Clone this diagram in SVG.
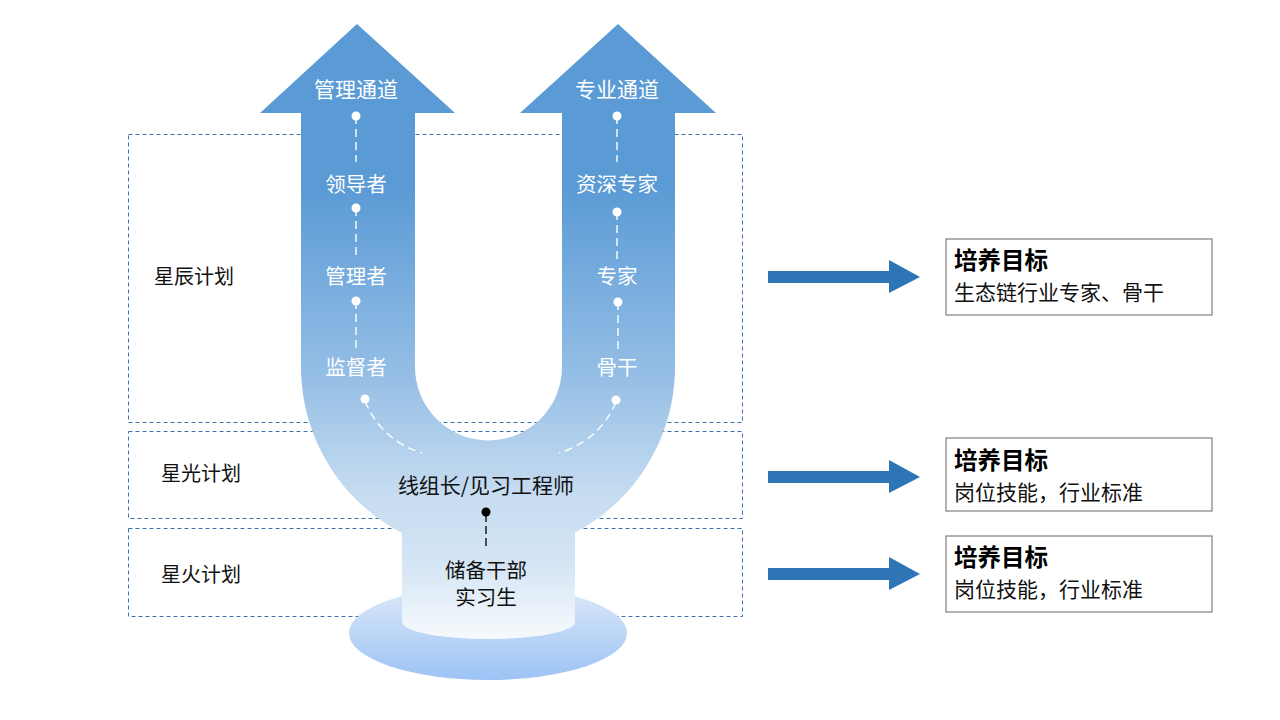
<svg xmlns="http://www.w3.org/2000/svg" width="1280" height="720" viewBox="0 0 1280 720">
<style>
.plan{fill:none;stroke:#3a73ad;stroke-width:1;stroke-dasharray:4 3}
.w{font-family:"Noto Sans CJK SC","Microsoft YaHei",sans-serif;font-size:20.5px;fill:#ffffff;text-anchor:middle;dominant-baseline:central}
.b{font-family:"Noto Sans CJK SC","Microsoft YaHei",sans-serif;font-size:21px;fill:#111111;text-anchor:middle;dominant-baseline:central}
.l{font-family:"Noto Sans CJK SC","Microsoft YaHei",sans-serif;font-size:20px;fill:#111111;dominant-baseline:central}
.t{font-family:"Noto Sans CJK SC","Microsoft YaHei",sans-serif;font-size:23.5px;font-weight:bold;fill:#000000;dominant-baseline:central}
.s{font-family:"Noto Sans CJK SC","Microsoft YaHei",sans-serif;font-size:21px;fill:#111111;dominant-baseline:central}
.box{fill:#ffffff;stroke:#7f7f7f;stroke-width:1.2}
.dot{fill:#ffffff}
.wd{fill:none;stroke:#ffffff;stroke-width:1.4;stroke-dasharray:8 5}
.bd{fill:none;stroke:#000000;stroke-width:1.3;stroke-dasharray:8 4}
.arr{fill:#2e75b6}
</style>
<defs>
<linearGradient id="ug" gradientUnits="userSpaceOnUse" x1="0" y1="190" x2="0" y2="640">
<stop offset="0" stop-color="#5b9bd5"/>
<stop offset="0.4" stop-color="#93bde5"/>
<stop offset="0.689" stop-color="#c8ddf1"/>
<stop offset="0.822" stop-color="#d3e4f4"/>
<stop offset="1" stop-color="#f7fafd"/>
</linearGradient>
<linearGradient id="bg" x1="0" y1="0" x2="0" y2="1">
<stop offset="0" stop-color="#dde9f8"/>
<stop offset="1" stop-color="#9cc3f5"/>
</linearGradient>
</defs>
<g id="plans">
<rect class="plan" x="128.5" y="134.5" width="614" height="288"/>
<rect class="plan" x="128.5" y="431.5" width="614" height="87"/>
<rect class="plan" x="128.5" y="528.5" width="614" height="88"/>
<text class="l" x="154" y="275">星辰计划</text>
<text class="l" x="161" y="472">星光计划</text>
<text class="l" x="161" y="573">星火计划</text>
</g>
<g id="base">
<ellipse cx="488" cy="633" rx="139" ry="47" fill="url(#bg)"/>
</g>
<g id="u-shape">
<path d="M402,520 L402,622 A86.5,17 0 0 0 575,622 L575,520 Z" fill="url(#ug)"/>
<path d="M301,113 L260,113 L357,24 L455,113 L415,113 L415,367 A73.5,73.5 0 0 0 562,367 L562,113 L520,113 L618,24 L716,113 L675,113 L675,367 A187,187 0 0 1 301,367 Z" fill="url(#ug)"/>
</g>
<g id="connectors">
<line class="wd" x1="356" y1="116" x2="356" y2="162"/>
<line class="wd" x1="356" y1="208" x2="356" y2="255"/>
<line class="wd" x1="356" y1="301" x2="356" y2="348"/>
<line class="wd" x1="617" y1="116" x2="617" y2="162"/>
<line class="wd" x1="617" y1="212" x2="617" y2="259"/>
<line class="wd" x1="618" y1="302" x2="618" y2="349"/>
<path class="wd" d="M365,401 Q381,440 422,453"/>
<path class="wd" d="M616,402 Q600,440 559,453"/>
<line class="bd" x1="486" y1="514" x2="486" y2="550"/>
<circle class="dot" cx="356" cy="116" r="4.5"/>
<circle class="dot" cx="356" cy="208" r="4.5"/>
<circle class="dot" cx="356" cy="301" r="4.5"/>
<circle class="dot" cx="365" cy="399" r="4.5"/>
<circle class="dot" cx="617" cy="116" r="4.5"/>
<circle class="dot" cx="617" cy="212" r="4.5"/>
<circle class="dot" cx="618" cy="302" r="4.5"/>
<circle class="dot" cx="616" cy="400" r="4.5"/>
<circle cx="486" cy="512" r="4.5" fill="#000000"/>
</g>
<g id="mgmt-labels">
<text class="w" x="356" y="88" style="font-size:21px">管理通道</text>
<text class="w" x="356" y="183">领导者</text>
<text class="w" x="356" y="275">管理者</text>
<text class="w" x="356" y="366">监督者</text>
</g>
<g id="prof-labels">
<text class="w" x="617" y="88" style="font-size:21px">专业通道</text>
<text class="w" x="617" y="183">资深专家</text>
<text class="w" x="617" y="275">专家</text>
<text class="w" x="617" y="366">骨干</text>
</g>
<g id="center-labels">
<text class="b" x="486" y="484">线组长/见习工程师</text>
<text class="b" x="486" y="569" style="font-size:20.5px">储备干部</text>
<text class="b" x="486" y="596" style="font-size:20.5px">实习生</text>
</g>
<g id="arrows">
<path class="arr" d="M768,271 L889,271 L889,260 L920,277 L889,293 L889,283 L768,283 Z"/>
<path class="arr" d="M768,471 L889,471 L889,460 L920,477 L889,493 L889,483 L768,483 Z"/>
<path class="arr" d="M768,568 L889,568 L889,557 L920,574 L889,590 L889,580 L768,580 Z"/>
</g>
<g id="goal1">
<rect class="box" x="946" y="239" width="266" height="76"/>
<text class="t" x="954" y="259">培养目标</text>
<text class="s" x="954" y="291">生态链行业专家、骨干</text>
</g>
<g id="goal2">
<rect class="box" x="946" y="438" width="266" height="73"/>
<text class="t" x="954" y="459">培养目标</text>
<text class="s" x="954" y="491">岗位技能，行业标准</text>
</g>
<g id="goal3">
<rect class="box" x="946" y="536" width="266" height="76"/>
<text class="t" x="954" y="556">培养目标</text>
<text class="s" x="954" y="588">岗位技能，行业标准</text>
</g>
</svg>
